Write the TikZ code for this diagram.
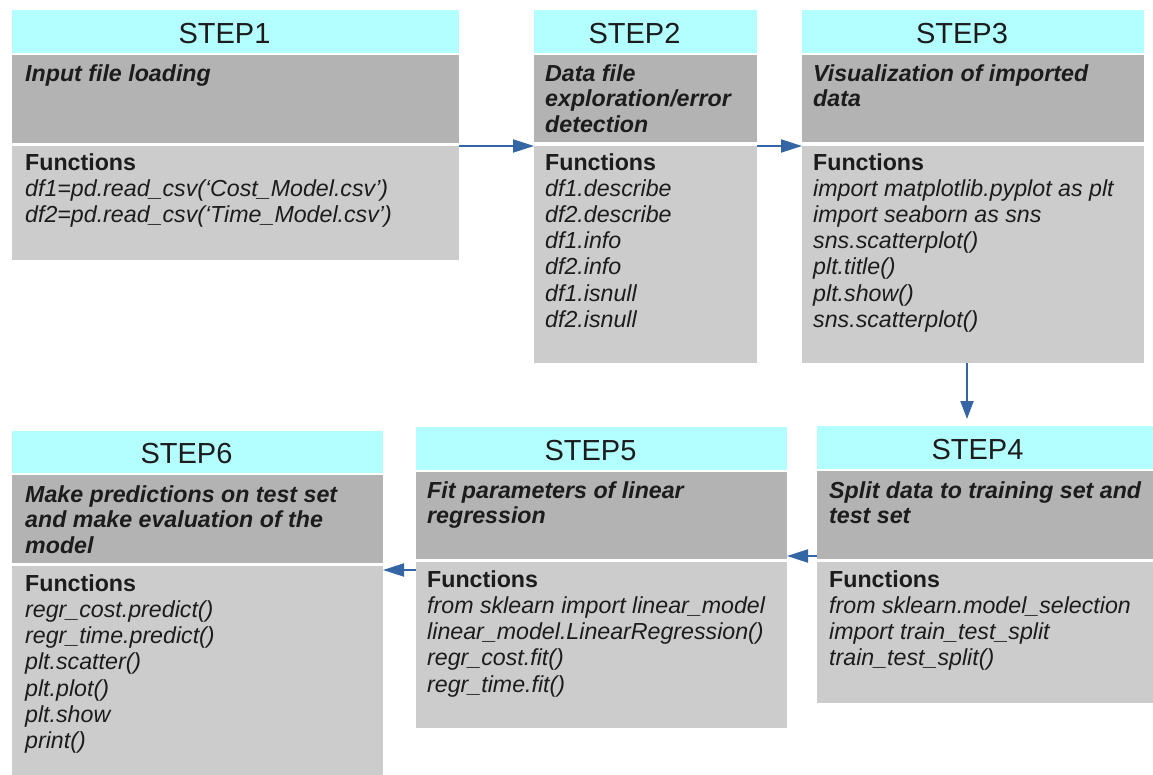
\documentclass[tikz,border=0pt]{standalone}
\usepackage{fontspec}
\setmainfont{Liberation Sans}
\usetikzlibrary{arrows.meta}

\definecolor{hdrcyan}{HTML}{B3FFFF}
\definecolor{bandgray}{HTML}{B3B3B3}
\definecolor{bodygray}{HTML}{CCCCCC}
\definecolor{ink}{HTML}{1C1C1C}
\definecolor{flowblue}{HTML}{3465A4}

% fixed height for the first line of every text block
\newcommand\lineone{\rule{0pt}{20pt}}

\tikzset{
  band/.style={anchor=north west, inner sep=0pt, outer sep=0pt, draw=none},
  hdrband/.style={band, fill=hdrcyan},
  darkband/.style={band, fill=bandgray},
  lightband/.style={band, fill=bodygray},
  steptitle/.style={anchor=base, inner sep=0pt, text=ink,
    font=\fontsize{29}{34}\selectfont},
  subtitle/.style={anchor=north west, inner sep=0pt, align=left, text=ink,
    font=\fontsize{23.2}{25.6}\selectfont\bfseries\itshape},
  funclist/.style={anchor=north west, inner sep=0pt, align=left, text=ink,
    font=\fontsize{23.2}{26.2}\selectfont\itshape},
  flow/.style={draw=flowblue, line width=2pt,
    -{Triangle[length=21pt,width=13pt]}},
}

\begin{document}
\begin{tikzpicture}[x=1pt,y=-1pt]
\useasboundingbox (0,0) rectangle (1153,775);
\clip (0,0) rectangle (1153,775);

% ---------- STEP1 ----------
\node[hdrband, minimum width=447pt, minimum height=43pt] (h1) at (12,10) {};
\node[darkband, minimum width=447pt, minimum height=88pt] (d1) at (12,55) {};
\node[lightband, minimum width=447pt, minimum height=114pt] (l1) at (12,146) {};
\node[steptitle] (s1) at ([xshift=-11pt,yshift=-12pt]h1.center) {STEP1};
\node[subtitle] (t1) at (25,61) {\lineone Input file loading};
\node[funclist] (f1) at (25,150) {\lineone\textbf{\textup{Functions}}\\
  df1=pd.read\_csv(‘Cost\_Model.csv’)\\
  df2=pd.read\_csv(‘Time\_Model.csv’)};

% ---------- STEP2 ----------
\node[hdrband, minimum width=223pt, minimum height=43pt] (h2) at (534,10) {};
\node[darkband, minimum width=223pt, minimum height=87pt] (d2) at (534,55) {};
\node[lightband, minimum width=223pt, minimum height=217pt] (l2) at (534,146) {};
\node[steptitle] (s2) at ([xshift=-11pt,yshift=-12pt]h2.center) {STEP2};
\node[subtitle] (t2) at (545,61) {\lineone Data file\\ exploration/error\\ detection};
\node[funclist] (f2) at (545,150) {\lineone\textbf{\textup{Functions}}\\
  df1.describe\\ df2.describe\\ df1.info\\ df2.info\\ df1.isnull\\ df2.isnull};

% ---------- STEP3 ----------
\node[hdrband, minimum width=342pt, minimum height=43pt] (h3) at (802,10) {};
\node[darkband, minimum width=342pt, minimum height=87pt] (d3) at (802,55) {};
\node[lightband, minimum width=342pt, minimum height=217pt] (l3) at (802,146) {};
\node[steptitle] (s3) at ([xshift=-11pt,yshift=-12pt]h3.center) {STEP3};
\node[subtitle] (t3) at (813,61) {\lineone Visualization of imported\\ data};
\node[funclist] (f3) at (813,150) {\lineone\textbf{\textup{Functions}}\\
  import matplotlib.pyplot as plt\\ import seaborn as sns\\
  sns.scatterplot()\\ plt.title()\\ plt.show()\\ sns.scatterplot()};

% ---------- STEP4 ----------
\node[hdrband, minimum width=343pt, minimum height=43pt] (h4) at (817,426) {};
\node[darkband, minimum width=343pt, minimum height=88pt] (d4) at (817,471) {};
\node[lightband, minimum width=343pt, minimum height=141pt] (l4) at (817,562) {};
\node[steptitle] (s4) at ([xshift=-11pt,yshift=-12pt]h4.center) {STEP4};
\node[subtitle] (t4) at (829,478) {\lineone Split data to training set and\\ test set};
\node[funclist] (f4) at (829,567) {\lineone\textbf{\textup{Functions}}\\
  from sklearn.model\_selection\\ import train\_test\_split\\ train\_test\_split()};

% ---------- STEP5 ----------
\node[hdrband, minimum width=371pt, minimum height=43pt] (h5) at (416,427) {};
\node[darkband, minimum width=371pt, minimum height=87pt] (d5) at (416,472) {};
\node[lightband, minimum width=371pt, minimum height=166pt] (l5) at (416,562) {};
\node[steptitle] (s5) at ([xshift=-11pt,yshift=-12pt]h5.center) {STEP5};
\node[subtitle] (t5) at (427,478) {\lineone Fit parameters of linear\\ regression};
\node[funclist] (f5) at (427,567) {\lineone\textbf{\textup{Functions}}\\
  from sklearn import linear\_model\\ linear\_model.LinearRegression()\\
  regr\_cost.fit()\\ regr\_time.fit()};

% ---------- STEP6 ----------
\node[hdrband, minimum width=371pt, minimum height=42pt] (h6) at (12,431) {};
\node[darkband, minimum width=371pt, minimum height=88pt] (d6) at (12,475) {};
\node[lightband, minimum width=371pt, minimum height=220pt] (l6) at (12,566) {};
\node[steptitle] (s6) at ([xshift=-11pt,yshift=-11.5pt]h6.center) {STEP6};
\node[subtitle] (t6) at (25,482) {\lineone Make predictions on test set\\
  and make evaluation of the\\ model};
\node[funclist] (f6) at (25,571) {\lineone\textbf{\textup{Functions}}\\
  regr\_cost.predict()\\ regr\_time.predict()\\ plt.scatter()\\
  plt.plot()\\ plt.show\\ print()};

% ---------- flow between the steps ----------
\draw[flow] (l1.north east) -- (l1.north east -| l2.west);
\draw[flow] (l2.north east) -- (l2.north east -| l3.west);
\coordinate (down3) at ([xshift=-6pt]l3.south);
\draw[flow, -{Triangle[length=18pt,width=13pt]}, shorten >=7pt]
  (down3) -- (down3 |- h4.north);
\coordinate (back4) at ([yshift=3pt]d4.south west);
\draw[flow] (back4) -- (back4 -| d5.east);
\coordinate (back5) at ([yshift=-8pt]l5.north west);
\draw[flow] (back5) -- (back5 -| d6.east);
\end{tikzpicture}
\end{document}
